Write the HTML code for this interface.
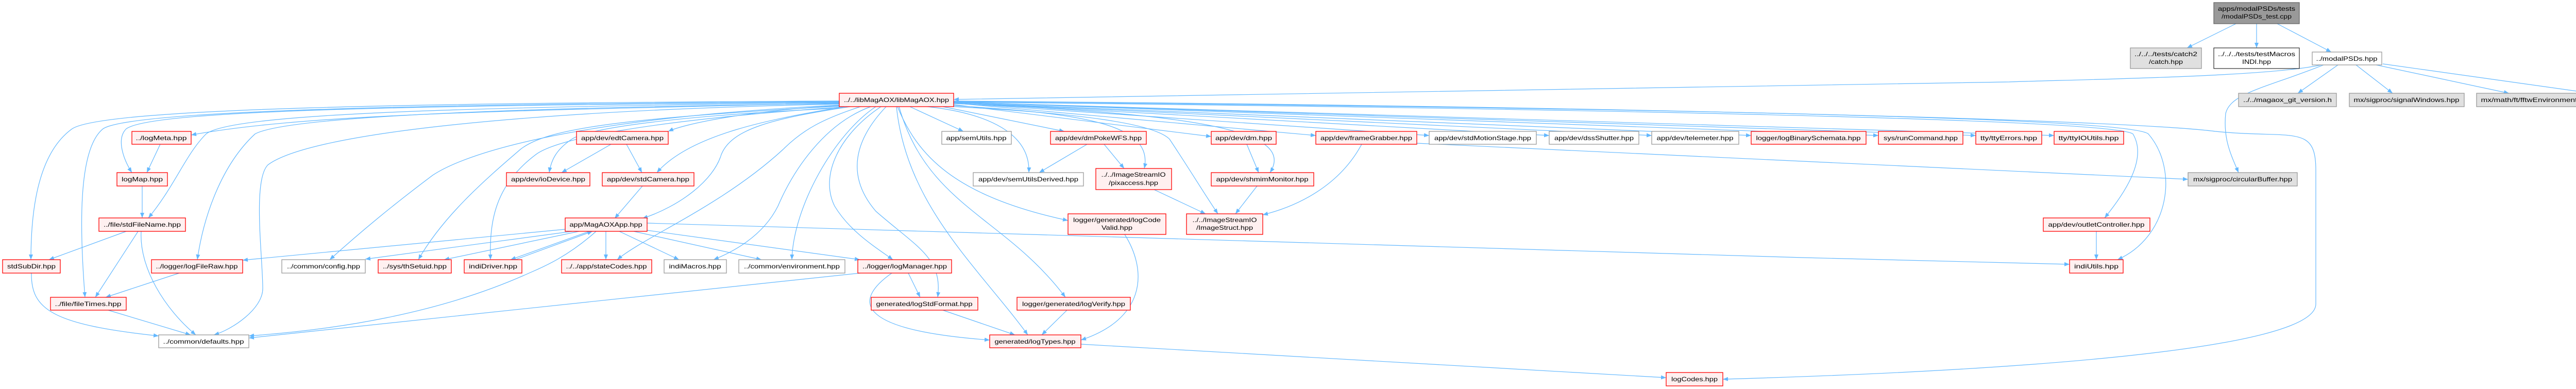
<!DOCTYPE html>
<html><head><meta charset="utf-8"><style>
html,body{margin:0;padding:0;background:#fff;}
svg{display:block;}
text{font-family:"Liberation Sans",sans-serif;font-size:12px;fill:#000;}
.r{fill:#fff0f0;stroke:#f00;stroke-width:1.3;}
.w{fill:#fff;stroke:#999;stroke-width:1.3;}
.g{fill:#e0e0e0;stroke:#999;stroke-width:1.3;}
.d{fill:#999;stroke:#666;stroke-width:1.3;}
.k{fill:#fff;stroke:#000;stroke-width:1;}
.e path{fill:none;stroke:#63b8ff;stroke-width:1.2;marker-end:url(#a);}
</style></head><body>
<svg width="5219" height="755" viewBox="0 0 5219 755" xmlns="http://www.w3.org/2000/svg">
<defs><marker id="a" markerWidth="10" markerHeight="8" refX="10" refY="4" orient="auto" markerUnits="userSpaceOnUse"><path d="M0,0 L10,4 L0,8 z" fill="#63b8ff"/></marker></defs>
<g class="e">
<path d="M4340,46 L4245,93"/>
<path d="M4380,46 L4380,93"/>
<path d="M4420,46 L4525,101"/>
<path d="M4505,126 C4400,150 4000,155 3900,159 L1851,193"/>
<path d="M4510,126 C4400,170 4330,180 4320,220 C4315,270 4330,300 4345,335"/>
<path d="M4538,126 L4460,181"/>
<path d="M4573,126 L4644,181"/>
<path d="M4612,126 L4870,181"/>
<path d="M4625,124 L5066,186"/>
<path d="M1629,200 C1000,215 600,220 371,262"/>
<path d="M1629,198 C900,205 300,210 245,250 C225,270 240,310 256,335"/>
<path d="M1629,196 C800,200 200,210 140,250 C70,300 60,420 60,504"/>
<path d="M1629,197 C800,202 250,215 200,250 C150,290 155,450 165,577"/>
<path d="M1629,199 C900,208 450,220 400,260 C360,300 340,360 288,423"/>
<path d="M1629,201 C900,210 550,230 495,260 C430,320 395,420 383,504"/>
<path d="M1629,202 C1000,215 600,260 520,320 C490,350 510,500 510,560 C510,600 450,640 415,650"/>
<path d="M1629,204 C1100,230 900,300 840,340 C760,400 700,450 640,504"/>
<path d="M1629,206 C1200,230 1060,250 1010,290 C940,350 860,420 812,504"/>
<path d="M1629,208 C1250,235 1080,270 1040,300 C960,360 950,430 952,504"/>
<path d="M1629,210 C1300,225 1140,250 1110,270 C1080,290 1070,310 1066,335"/>
<path d="M1629,205 C1450,215 1330,240 1297,255"/>
<path d="M1640,207 C1500,230 1340,260 1275,335"/>
<path d="M1650,207 C1500,230 1420,250 1400,300 C1385,350 1320,400 1247,424"/>
<path d="M1670,207 C1600,230 1560,250 1520,290 C1400,400 1250,460 1198,504"/>
<path d="M1690,207 C1600,240 1540,330 1510,400 C1480,460 1420,490 1385,504"/>
<path d="M1700,207 C1620,260 1540,400 1537,504"/>
<path d="M1710,207 C1630,260 1590,340 1620,400 C1650,450 1700,480 1733,504"/>
<path d="M1720,207 C1660,270 1640,340 1700,410 C1780,480 1830,500 1820,577"/>
<path d="M1740,207 C1760,400 1900,520 1995,650"/>
<path d="M1745,207 C1800,400 1950,420 2068,577"/>
<path d="M1742,207 C1780,300 1850,380 2073,428"/>
<path d="M1766,207 L1870,255"/>
<path d="M1800,207 C1920,220 2000,260 1997,335"/>
<path d="M1830,207 L2066,255"/>
<path d="M1851,205 C2100,220 2240,240 2221,327"/>
<path d="M1851,207 C2100,220 2240,240 2270,270 C2310,330 2340,380 2364,415"/>
<path d="M1851,203 L2351,265"/>
<path d="M1851,201 C2300,220 2520,250 2465,335"/>
<path d="M1851,200 L2554,263"/>
<path d="M1851,200 L2774,263"/>
<path d="M1851,199 L3007,263"/>
<path d="M1851,199 L3206,263"/>
<path d="M1851,199 L3399,263"/>
<path d="M1851,198 L3646,263"/>
<path d="M1851,198 L3835,263"/>
<path d="M1851,198 L3987,263"/>
<path d="M1851,198 C3000,210 4100,230 4140,260 C4170,310 4120,380 4085,423"/>
<path d="M1851,197 C3000,208 4130,225 4170,260 C4230,330 4210,460 4110,504"/>
<path d="M1851,196 C3000,205 4100,230 4300,255 C4450,270 4495,240 4495,330 L4495,590 C4495,680 3900,720 3344,736"/>
<path d="M311,280 L285,335"/>
<path d="M276,361 L276,423"/>
<path d="M245,449 L95,504"/>
<path d="M268,449 L185,577"/>
<path d="M274,449 C270,520 320,600 380,650"/>
<path d="M61,530 C60,600 100,630 308,652"/>
<path d="M348,530 L205,577"/>
<path d="M210,602 L370,650"/>
<path d="M1186,280 L1090,335"/>
<path d="M1216,280 L1246,335"/>
<path d="M1247,361 L1193,424"/>
<path d="M1097,445 L471,505"/>
<path d="M1111,449 L709,503"/>
<path d="M1124,449 L862,504"/>
<path d="M1144,449 L991,504"/>
<path d="M1000,504 L1150,449"/>
<path d="M1157,449 C1100,500 1050,520 1027,530 C850,610 650,640 483,652"/>
<path d="M1176,449 L1176,504"/>
<path d="M1202,449 L1318,504"/>
<path d="M1230,449 L1478,504"/>
<path d="M1256,447 L1669,504"/>
<path d="M1256,433 L2000,455 L3500,500 L4017,513"/>
<path d="M1670,530 L483,656"/>
<path d="M1763,530 L1786,577"/>
<path d="M1731,530 C1660,580 1650,640 1921,660"/>
<path d="M1830,602 L1970,650"/>
<path d="M2071,602 L2022,650"/>
<path d="M2183,455 C2230,530 2220,620 2098,660"/>
<path d="M2098,668 L3234,733"/>
<path d="M2110,280 L2017,335"/>
<path d="M2143,280 L2182,327"/>
<path d="M2420,280 L2443,335"/>
<path d="M2240,368 L2340,415"/>
<path d="M2440,361 L2398,415"/>
<path d="M2643,280 C2600,360 2520,400 2451,417"/>
<path d="M2750,278 L4247,348"/>
<path d="M4069,449 L4069,504"/>
</g>
<g>
<rect class="d" x="4297" y="5" width="166" height="41"/><text x="4380" y="21" text-anchor="middle" textLength="150" lengthAdjust="spacingAndGlyphs">apps/modalPSDs/tests</text><text x="4380" y="36" text-anchor="middle" textLength="136" lengthAdjust="spacingAndGlyphs">/modalPSDs_test.cpp</text>
<rect class="g" x="4135" y="93" width="138" height="40"/><text x="4204" y="109" text-anchor="middle" textLength="122" lengthAdjust="spacingAndGlyphs">../../../tests/catch2</text><text x="4204" y="124" text-anchor="middle" textLength="66" lengthAdjust="spacingAndGlyphs">/catch.hpp</text>
<rect class="k" x="4297" y="93" width="166" height="40"/><text x="4380" y="109" text-anchor="middle" textLength="150" lengthAdjust="spacingAndGlyphs">../../../tests/testMacros</text><text x="4380" y="124" text-anchor="middle" textLength="56" lengthAdjust="spacingAndGlyphs">INDI.hpp</text>
<rect class="w" x="4488" y="101" width="135" height="25"/><text x="4555" y="118" text-anchor="middle" textLength="119" lengthAdjust="spacingAndGlyphs">../modalPSDs.hpp</text>
<rect class="r" x="1629" y="181" width="222" height="26"/><text x="1740" y="198" text-anchor="middle" textLength="204" lengthAdjust="spacingAndGlyphs">../../libMagAOX/libMagAOX.hpp</text>
<rect class="g" x="4345" y="181" width="190" height="26"/><text x="4440" y="198" text-anchor="middle" textLength="172" lengthAdjust="spacingAndGlyphs">../../magaox_git_version.h</text>
<rect class="g" x="4560" y="181" width="223" height="26"/><text x="4671" y="198" text-anchor="middle" textLength="205" lengthAdjust="spacingAndGlyphs">mx/sigproc/signalWindows.hpp</text>
<rect class="g" x="4807" y="181" width="235" height="26"/><text x="4924" y="198" text-anchor="middle" textLength="217" lengthAdjust="spacingAndGlyphs">mx/math/ft/fftwEnvironment.hpp</text>
<rect class="g" x="5066" y="181" width="147" height="26"/><text x="5139" y="198" text-anchor="middle" textLength="129" lengthAdjust="spacingAndGlyphs">mx/math/ft/fftT.hpp</text>

<rect class="r" x="256" y="255" width="115" height="25"/><text x="313" y="272" text-anchor="middle" textLength="99" lengthAdjust="spacingAndGlyphs">../logMeta.hpp</text>
<rect class="r" x="1119" y="255" width="178" height="25"/><text x="1208" y="272" text-anchor="middle" textLength="160" lengthAdjust="spacingAndGlyphs">app/dev/edtCamera.hpp</text>
<rect class="w" x="1828" y="255" width="135" height="25"/><text x="1895" y="272" text-anchor="middle" textLength="117" lengthAdjust="spacingAndGlyphs">app/semUtils.hpp</text>
<rect class="r" x="2039" y="255" width="186" height="25"/><text x="2132" y="272" text-anchor="middle" textLength="168" lengthAdjust="spacingAndGlyphs">app/dev/dmPokeWFS.hpp</text>
<rect class="r" x="2351" y="255" width="126" height="25"/><text x="2414" y="272" text-anchor="middle" textLength="110" lengthAdjust="spacingAndGlyphs">app/dev/dm.hpp</text>
<rect class="r" x="2554" y="255" width="196" height="25"/><text x="2652" y="272" text-anchor="middle" textLength="178" lengthAdjust="spacingAndGlyphs">app/dev/frameGrabber.hpp</text>
<rect class="w" x="2774" y="255" width="208" height="25"/><text x="2878" y="272" text-anchor="middle" textLength="188" lengthAdjust="spacingAndGlyphs">app/dev/stdMotionStage.hpp</text>
<rect class="w" x="3007" y="255" width="174" height="25"/><text x="3094" y="272" text-anchor="middle" textLength="154" lengthAdjust="spacingAndGlyphs">app/dev/dssShutter.hpp</text>
<rect class="w" x="3206" y="255" width="169" height="25"/><text x="3290" y="272" text-anchor="middle" textLength="149" lengthAdjust="spacingAndGlyphs">app/dev/telemeter.hpp</text>
<rect class="r" x="3399" y="255" width="223" height="25"/><text x="3510" y="272" text-anchor="middle" textLength="203" lengthAdjust="spacingAndGlyphs">logger/logBinarySchemata.hpp</text>
<rect class="r" x="3646" y="255" width="164" height="25"/><text x="3728" y="272" text-anchor="middle" textLength="144" lengthAdjust="spacingAndGlyphs">sys/runCommand.hpp</text>
<rect class="r" x="3835" y="255" width="128" height="25"/><text x="3899" y="272" text-anchor="middle" textLength="110" lengthAdjust="spacingAndGlyphs">tty/ttyErrors.hpp</text>
<rect class="r" x="3987" y="255" width="135" height="25"/><text x="4054" y="272" text-anchor="middle" textLength="117" lengthAdjust="spacingAndGlyphs">tty/ttyIOUtils.hpp</text>

<rect class="r" x="227" y="335" width="98" height="26"/><text x="276" y="352" text-anchor="middle" textLength="80" lengthAdjust="spacingAndGlyphs">logMap.hpp</text>
<rect class="r" x="983" y="335" width="162" height="26"/><text x="1064" y="352" text-anchor="middle" textLength="144" lengthAdjust="spacingAndGlyphs">app/dev/ioDevice.hpp</text>
<rect class="r" x="1169" y="335" width="178" height="26"/><text x="1258" y="352" text-anchor="middle" textLength="160" lengthAdjust="spacingAndGlyphs">app/dev/stdCamera.hpp</text>
<rect class="w" x="1889" y="335" width="214" height="26"/><text x="1996" y="352" text-anchor="middle" textLength="194" lengthAdjust="spacingAndGlyphs">app/dev/semUtilsDerived.hpp</text>
<rect class="r" x="2127" y="327" width="147" height="41"/><text x="2200" y="343" text-anchor="middle" textLength="125" lengthAdjust="spacingAndGlyphs">../../ImageStreamIO</text><text x="2200" y="359" text-anchor="middle" textLength="96" lengthAdjust="spacingAndGlyphs">/pixaccess.hpp</text>
<rect class="r" x="2351" y="335" width="199" height="26"/><text x="2450" y="352" text-anchor="middle" textLength="179" lengthAdjust="spacingAndGlyphs">app/dev/shmimMonitor.hpp</text>
<rect class="g" x="4247" y="335" width="212" height="26"/><text x="4353" y="352" text-anchor="middle" textLength="192" lengthAdjust="spacingAndGlyphs">mx/sigproc/circularBuffer.hpp</text>

<rect class="r" x="2073" y="415" width="190" height="40"/><text x="2168" y="431" text-anchor="middle" textLength="170" lengthAdjust="spacingAndGlyphs">logger/generated/logCode</text><text x="2168" y="446" text-anchor="middle" textLength="60" lengthAdjust="spacingAndGlyphs">Valid.hpp</text>
<rect class="r" x="2303" y="415" width="148" height="40"/><text x="2377" y="431" text-anchor="middle" textLength="125" lengthAdjust="spacingAndGlyphs">../../ImageStreamIO</text><text x="2377" y="446" text-anchor="middle" textLength="110" lengthAdjust="spacingAndGlyphs">/ImageStruct.hpp</text>
<rect class="r" x="192" y="423" width="168" height="26"/><text x="276" y="440" text-anchor="middle" textLength="150" lengthAdjust="spacingAndGlyphs">../file/stdFileName.hpp</text>
<rect class="r" x="1097" y="423" width="159" height="26"/><text x="1176" y="440" text-anchor="middle" textLength="141" lengthAdjust="spacingAndGlyphs">app/MagAOXApp.hpp</text>
<rect class="r" x="3966" y="423" width="207" height="26"/><text x="4069" y="440" text-anchor="middle" textLength="187" lengthAdjust="spacingAndGlyphs">app/dev/outletController.hpp</text>

<rect class="r" x="5" y="504" width="112" height="26"/><text x="61" y="521" text-anchor="middle" textLength="94" lengthAdjust="spacingAndGlyphs">stdSubDir.hpp</text>
<rect class="r" x="294" y="504" width="177" height="26"/><text x="382" y="521" text-anchor="middle" textLength="159" lengthAdjust="spacingAndGlyphs">../logger/logFileRaw.hpp</text>
<rect class="w" x="547" y="504" width="162" height="26"/><text x="628" y="521" text-anchor="middle" textLength="142" lengthAdjust="spacingAndGlyphs">../common/config.hpp</text>
<rect class="r" x="734" y="504" width="142" height="26"/><text x="805" y="521" text-anchor="middle" textLength="124" lengthAdjust="spacingAndGlyphs">../sys/thSetuid.hpp</text>
<rect class="r" x="901" y="504" width="112" height="26"/><text x="957" y="521" text-anchor="middle" textLength="94" lengthAdjust="spacingAndGlyphs">indiDriver.hpp</text>
<rect class="r" x="1090" y="504" width="175" height="26"/><text x="1177" y="521" text-anchor="middle" textLength="157" lengthAdjust="spacingAndGlyphs">../../app/stateCodes.hpp</text>
<rect class="w" x="1289" y="504" width="121" height="26"/><text x="1349" y="521" text-anchor="middle" textLength="101" lengthAdjust="spacingAndGlyphs">indiMacros.hpp</text>
<rect class="w" x="1434" y="504" width="206" height="26"/><text x="1537" y="521" text-anchor="middle" textLength="186" lengthAdjust="spacingAndGlyphs">../common/environment.hpp</text>
<rect class="r" x="1665" y="504" width="182" height="26"/><text x="1756" y="521" text-anchor="middle" textLength="164" lengthAdjust="spacingAndGlyphs">../logger/logManager.hpp</text>
<rect class="r" x="4017" y="504" width="104" height="26"/><text x="4069" y="521" text-anchor="middle" textLength="86" lengthAdjust="spacingAndGlyphs">indiUtils.hpp</text>

<rect class="r" x="98" y="577" width="147" height="25"/><text x="171" y="594" text-anchor="middle" textLength="129" lengthAdjust="spacingAndGlyphs">../file/fileTimes.hpp</text>
<rect class="r" x="1691" y="577" width="207" height="25"/><text x="1794" y="594" text-anchor="middle" textLength="187" lengthAdjust="spacingAndGlyphs">generated/logStdFormat.hpp</text>
<rect class="r" x="1974" y="577" width="220" height="25"/><text x="2084" y="594" text-anchor="middle" textLength="200" lengthAdjust="spacingAndGlyphs">logger/generated/logVerify.hpp</text>

<rect class="w" x="308" y="650" width="175" height="25"/><text x="395" y="667" text-anchor="middle" textLength="157" lengthAdjust="spacingAndGlyphs">../common/defaults.hpp</text>
<rect class="r" x="1921" y="650" width="177" height="25"/><text x="2009" y="667" text-anchor="middle" textLength="157" lengthAdjust="spacingAndGlyphs">generated/logTypes.hpp</text>
<rect class="r" x="3234" y="723" width="110" height="26"/><text x="3289" y="740" text-anchor="middle" textLength="90" lengthAdjust="spacingAndGlyphs">logCodes.hpp</text>
</g>
</svg>
</body></html>
